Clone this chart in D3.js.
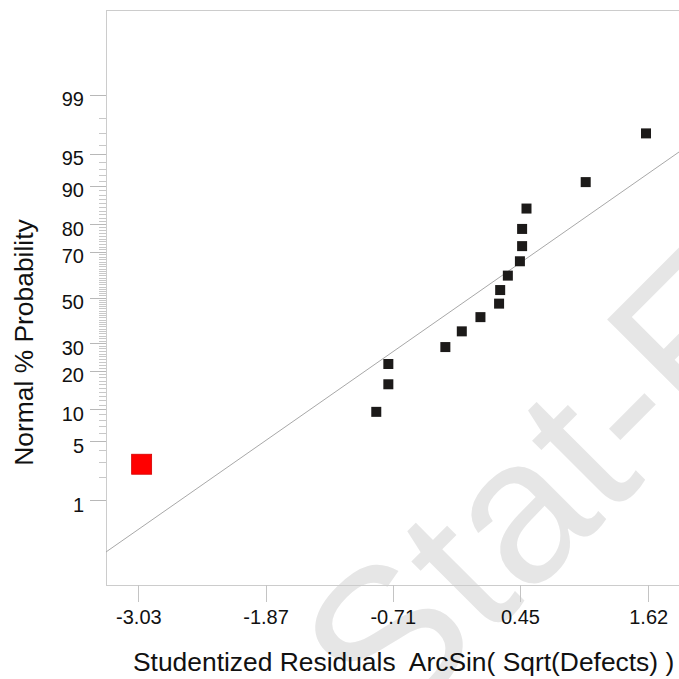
<!DOCTYPE html>
<html>
<head>
<meta charset="utf-8">
<script src="https://cdn.jsdelivr.net/npm/d3@7"></script>
<style>
  html, body { margin: 0; padding: 0; background: #ffffff; }
  svg { display: block; font-family: "Liberation Sans", Arial, sans-serif; }
</style>
</head>
<body>
<svg id="chart" width="679" height="679"></svg>
<script>
// Studentized residuals (x) and their normal probability plotting positions (%)
const residuals = [-3.00, -0.86, -0.75, -0.75, -0.23, -0.08, 0.09, 0.26, 0.27, 0.34, 0.45, 0.47, 0.47, 0.51, 1.05, 1.60];
const probabilities = [2.8, 9.5, 16.0, 22.3, 28.5, 34.9, 41.1, 47.2, 53.4, 59.9, 66.1, 72.2, 78.4, 84.6, 90.7, 97.0];
const flagged = [true, false, false, false, false, false, false, false, false, false, false, false, false, false, false, false];

// Axis ticks
const xTicks = [-3.03, -1.87, -0.71, 0.45, 1.62];
const yTicks = [1, 5, 10, 20, 30, 50, 70, 80, 90, 95, 99];

// Reference normal line: z = (x - mean) / sd
const lineMean = 0.0;
const lineSD = 1.14;

const xLabel = "Studentized Residuals  ArcSin( Sqrt(Defects) )";
const yLabel = "Normal % Probability";

// Inverse standard normal CDF (Acklam's rational approximation)
function probit(p) {
  const a = [-3.969683028665376e+01, 2.209460984245205e+02, -2.759285104469687e+02, 1.383577518672690e+02, -3.066479806614716e+01, 2.506628277459239e+00];
  const b = [-5.447609879822406e+01, 1.615858368580409e+02, -1.556989798598866e+02, 6.680131188771972e+01, -1.328068155288572e+01];
  const c = [-7.784894002430293e-03, -3.223964580411365e-01, -2.400758277161838e+00, -2.549732539343734e+00, 4.374664141464968e+00, 2.938163982698783e+00];
  const d = [7.784695709041462e-03, 3.224671290700398e-01, 2.445134137142996e+00, 3.754408661907416e+00];
  const plow = 0.02425, phigh = 1 - plow;
  if (p < plow) {
    const q = Math.sqrt(-2 * Math.log(p));
    return (((((c[0]*q+c[1])*q+c[2])*q+c[3])*q+c[4])*q+c[5]) / ((((d[0]*q+d[1])*q+d[2])*q+d[3])*q+1);
  }
  if (p <= phigh) {
    const q = p - 0.5, r = q * q;
    return (((((a[0]*r+a[1])*r+a[2])*r+a[3])*r+a[4])*r+a[5])*q / (((((b[0]*r+b[1])*r+b[2])*r+b[3])*r+b[4])*r+1);
  }
  const q = Math.sqrt(-2 * Math.log(1 - p));
  return -(((((c[0]*q+c[1])*q+c[2])*q+c[3])*q+c[4])*q+c[5]) / ((((d[0]*q+d[1])*q+d[2])*q+d[3])*q+1);
}

const svg = d3.select("#chart");
const plot = { left: 106, top: 10, right: 680, bottom: 585 };
const labelFont = "Liberation Sans, Arial, sans-serif";

const x = d3.scaleLinear().domain([-3.325, 1.91]).range([plot.left, plot.right]);
const z = d3.scaleLinear().domain([-3.295, 3.295]).range([plot.bottom, plot.top]);
const yPct = p => z(probit(p / 100));

// Watermark behind the plot
svg.append("text")
  .attr("transform", "translate(389,737) rotate(-45)")
  .attr("font-size", 205)
  .attr("fill", "#e6e6e6")
  .text("Stat-Ease");

// Frame lines
const frame = svg.append("g").attr("stroke", "#cccccc").attr("stroke-width", 1).attr("shape-rendering", "crispEdges");
frame.append("line").attr("x1", plot.left).attr("x2", plot.left).attr("y1", plot.top).attr("y2", plot.bottom);
frame.append("line").attr("x1", plot.left).attr("x2", 679).attr("y1", plot.top).attr("y2", plot.top);
frame.append("line").attr("x1", plot.left).attr("x2", 679).attr("y1", plot.bottom).attr("y2", plot.bottom);

// Minor probability ticks (every whole percent)
const minorTicks = d3.range(2, 99).filter(v => !yTicks.includes(v));
svg.append("g")
  .attr("transform", `translate(${plot.left},0)`)
  .call(d3.axisLeft(z).tickValues(minorTicks.map(v => probit(v / 100))).tickSize(7).tickFormat(""))
  .call(g => g.select(".domain").remove())
  .call(g => g.selectAll("line").attr("stroke", "#c8c8c8").attr("shape-rendering", "crispEdges"));

// Major probability axis
svg.append("g")
  .attr("transform", `translate(${plot.left},0)`)
  .call(d3.axisLeft(z).tickValues(yTicks.map(v => probit(v / 100))).tickSize(16).tickPadding(6)
    .tickFormat((d, i) => String(yTicks[i])))
  .call(g => g.select(".domain").remove())
  .call(g => g.selectAll("line").attr("stroke", "#b8b8b8").attr("shape-rendering", "crispEdges"))
  .call(g => g.selectAll("text").attr("dy", 11).attr("fill", "#111111")
    .attr("font-size", 20).attr("font-family", labelFont));

// Residual axis
svg.append("g")
  .attr("transform", `translate(0,${plot.bottom})`)
  .call(d3.axisBottom(x).tickValues(xTicks).tickSize(17).tickPadding(8).tickFormat(d => d.toFixed(2)))
  .call(g => g.select(".domain").remove())
  .call(g => g.selectAll("line").attr("stroke", "#c4c4c4").attr("shape-rendering", "crispEdges"))
  .call(g => g.selectAll("text").attr("fill", "#111111")
    .attr("font-size", 20).attr("font-family", labelFont));

// Reference line
const xd = x.domain();
svg.append("line")
  .attr("x1", x(xd[0])).attr("y1", z((xd[0] - lineMean) / lineSD))
  .attr("x2", x(xd[1])).attr("y2", z((xd[1] - lineMean) / lineSD))
  .attr("stroke", "#a8a8a8").attr("stroke-width", 1);

// Points
const pts = residuals.map((r, i) => ({ r, p: probabilities[i], hi: flagged[i] }));
svg.append("g").selectAll("rect")
  .data(pts)
  .join("rect")
  .attr("x", d => x(d.r) - (d.hi ? 10 : 5))
  .attr("y", d => yPct(d.p) - (d.hi ? 10 : 5))
  .attr("width", d => d.hi ? 20 : 10)
  .attr("height", d => d.hi ? 20 : 10)
  .attr("fill", d => d.hi ? "#ff0000" : "#1c1a19")
  .attr("stroke", d => d.hi ? "#d40000" : "none")
  .attr("stroke-width", 0.8);

// Axis titles
svg.append("text")
  .attr("x", 133).attr("y", 671)
  .attr("font-size", 26.4).attr("fill", "#111111")
  .attr("xml:space", "preserve")
  .style("white-space", "pre")
  .text(xLabel);

svg.append("text")
  .attr("transform", "translate(33,342.5) rotate(-90)")
  .attr("text-anchor", "middle")
  .attr("font-size", 26.4).attr("fill", "#111111")
  .text(yLabel);
</script>
</body>
</html>
